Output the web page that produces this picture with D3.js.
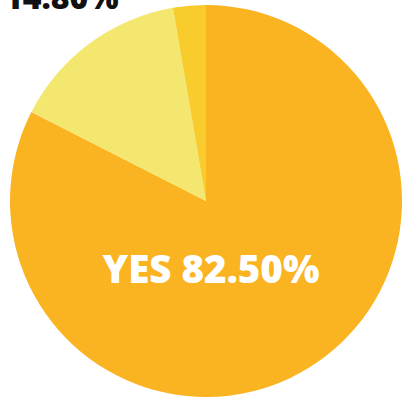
<!DOCTYPE html>
<html>
<head>
<meta charset="utf-8">
<script src="https://cdn.jsdelivr.net/npm/d3@7"></script>
<style>
  html, body { margin: 0; padding: 0; background: #ffffff; }
  svg { display: block; }
</style>
</head>
<body>
<script>
// Survey answers, clockwise from 12 o'clock
const labels = ["YES", "NO", "UNSURE"];
const values = [82.5, 14.8, 2.7];
const colors = ["#FAB321", "#F4E76F", "#F8CC2C"];

const W = 403, H = 403;
const cx = 206, cy = 201, R = 196;

const svg = d3.select("body").append("svg")
  .attr("width", W).attr("height", H);

const pie = d3.pie().sort(null).value(d => d.value);
const arc = d3.arc().innerRadius(0).outerRadius(R);

const data = labels.map((l, i) => ({ label: l, value: values[i], color: colors[i] }));
const arcs = pie(data);

const g = svg.append("g").attr("transform", `translate(${cx},${cy})`);
g.selectAll("path").data(arcs).join("path")
  .attr("d", arc)
  .attr("fill", d => d.data.color);

// Value label inside the main slice
g.append("text")
  .attr("x", 5).attr("y", 82)
  .attr("text-anchor", "middle")
  .attr("fill", "#ffffff")
  .style("font-family", "'Open Sans', sans-serif")
  .style("font-weight", 800)
  .style("font-size", "38.5px")
  .text(`${labels[0]} ${values[0].toFixed(2)}%`);

// Value label for the second slice, above the chart
svg.append("text")
  .attr("x", 4).attr("y", 9)
  .attr("fill", "#111111")
  .style("font-family", "'Open Sans', sans-serif")
  .style("font-weight", 800)
  .style("font-size", "32px")
  .text(`${values[1].toFixed(2)}%`);
</script>
</body>
</html>
